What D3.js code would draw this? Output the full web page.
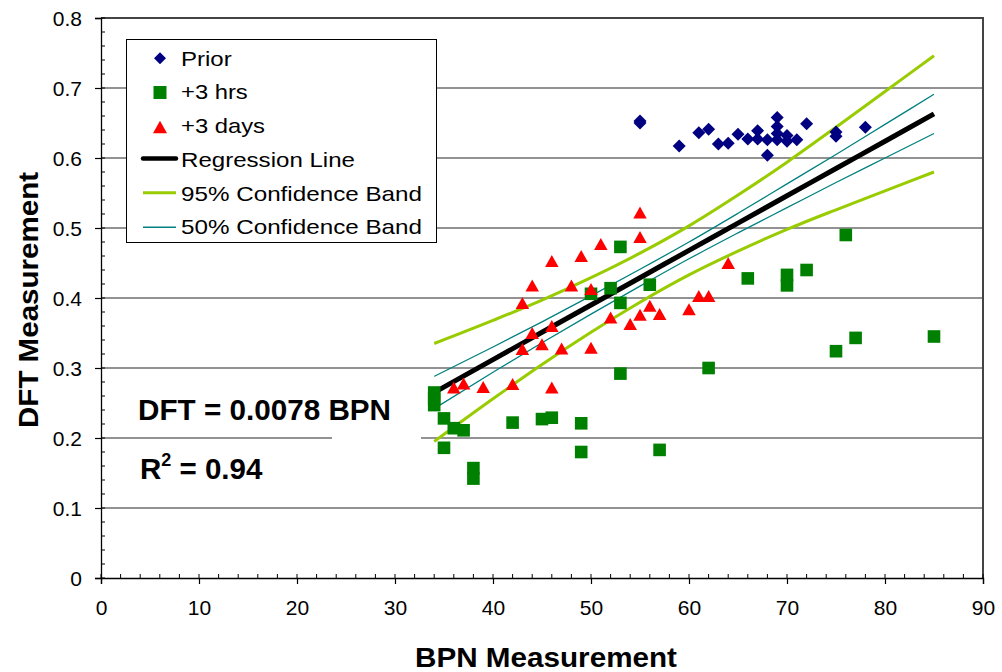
<!DOCTYPE html>
<html>
<head>
<meta charset="utf-8">
<script src="https://cdn.jsdelivr.net/npm/d3@7"></script>
<style>
  html, body { margin: 0; padding: 0; background: #fff; }
  svg { display: block; font-family: Arial, "Liberation Sans", sans-serif; }
</style>
</head>
<body>
<svg id="chart" width="1002" height="672"></svg>
<script>
// ---- data ----
const priorPts = [[55,0.653],[55,0.650],[59,0.617],[61,0.636],[62,0.641],[63,0.620],[64,0.621],[65,0.634],[66,0.627],[67,0.639],[67,0.627],[68,0.604],[68,0.626],[69,0.658],[69,0.645],[69,0.635],[69,0.626],[70,0.632],[70,0.624],[71,0.626],[72,0.649],[75,0.637],[75,0.631],[78,0.644]];
const hrsPts = [[34,0.265],[34,0.256],[34,0.247],[35,0.228],[35,0.186],[36,0.214],[37,0.211],[38,0.157],[38,0.142],[42,0.222],[45,0.227],[46,0.229],[49,0.221],[49,0.180],[50,0.406],[52,0.414],[53,0.473],[53,0.393],[53,0.292],[56,0.419],[57,0.183],[62,0.300],[66,0.428],[70,0.433],[70,0.418],[72,0.440],[75,0.324],[76,0.490],[77,0.343],[85,0.345]];
const daysPts = [[36,0.272],[37,0.278],[39,0.273],[42,0.277],[43,0.327],[43,0.393],[44,0.350],[44,0.418],[45,0.334],[46,0.360],[46,0.453],[46,0.272],[47,0.328],[48,0.418],[49,0.460],[50,0.413],[50,0.329],[51,0.477],[52,0.372],[54,0.363],[55,0.376],[55,0.487],[55,0.522],[56,0.389],[57,0.377],[60,0.384],[61,0.403],[62,0.403],[64,0.450]];

const bandX   = [34, 40, 45, 50, 55, 60, 65, 70, 75, 80, 85];
const regY    = [0.265, 0.312, 0.351, 0.390, 0.429, 0.468, 0.507, 0.546, 0.585, 0.624, 0.663];
const upper95 = [0.335, 0.368, 0.397, 0.429, 0.464, 0.503, 0.547, 0.594, 0.644, 0.695, 0.746];
const lower95 = [0.195, 0.256, 0.305, 0.351, 0.394, 0.433, 0.467, 0.498, 0.526, 0.553, 0.580];
const upper50 = [0.288, 0.330, 0.366, 0.403, 0.441, 0.480, 0.521, 0.563, 0.605, 0.648, 0.691];
const lower50 = [0.242, 0.294, 0.336, 0.377, 0.417, 0.456, 0.493, 0.529, 0.565, 0.600, 0.635];

const xTicks = [0, 10, 20, 30, 40, 50, 60, 70, 80, 90];
const yTicks = [0, 0.1, 0.2, 0.3, 0.4, 0.5, 0.6, 0.7, 0.8];
const legendLabels = ["Prior", "+3 hrs", "+3 days", "Regression Line", "95% Confidence Band", "50% Confidence Band"];

// ---- layout ----
const L = 101, R = 983, T = 18, B = 578;
const x = d3.scaleLinear().domain([0, 90]).range([L, R]);
const y = d3.scaleLinear().domain([0, 0.8]).range([B, T]);

const svg = d3.select("#chart");
const COL = { prior: "#000080", hrs: "#008000", days: "#FF0000", reg: "#000000", c95: "#99CC00", c50: "#008080" };

// gridlines
svg.append("g").selectAll("line").data(yTicks.filter(v => v > 0 && v < 0.8)).join("line")
  .attr("x1", L).attr("x2", R).attr("y1", d => y(d)).attr("y2", d => y(d))
  .attr("stroke", "#6e6e6e").attr("stroke-width", 1.3);

// frame top/right
svg.append("path").attr("d", `M${L},${T}H${R}V${B}`).attr("fill", "none")
  .attr("stroke", "#444").attr("stroke-width", 2);

// white box behind BPN text (interrupts gridline)
svg.append("rect").attr("x", 332).attr("y", 396).attr("width", 89).attr("height", 44).attr("fill", "#fff");

// axes
const yAxis = d3.axisLeft(y).tickValues(yTicks).tickSize(6).tickFormat(d => d === 0 ? "0" : d3.format(".1f")(d));
const gy = svg.append("g").attr("transform", `translate(${L},0)`).call(yAxis);
gy.select(".domain").attr("stroke", "#000").attr("stroke-width", 1.3);
gy.selectAll(".tick line").attr("stroke", "#000").attr("stroke-width", 1.2);
gy.selectAll(".tick text").attr("font-size", 21).attr("fill", "#000").attr("x", -19).attr("dy", "0.36em")
  .attr("font-family", "Arial, 'Liberation Sans', sans-serif");
// y minor ticks inward
svg.append("g").selectAll("line").data(d3.range(0, 0.8001, 0.02)).join("line")
  .attr("x1", L).attr("x2", L + 4).attr("y1", d => y(d)).attr("y2", d => y(d))
  .attr("stroke", "#000").attr("stroke-width", 1);

const xAxis = d3.axisBottom(x).tickValues(xTicks).tickSize(6);
const gx = svg.append("g").attr("transform", `translate(0,${B})`).call(xAxis);
gx.select(".domain").attr("stroke", "#000").attr("stroke-width", 1.3);
gx.selectAll(".tick line").attr("stroke", "#000").attr("stroke-width", 1.2);
gx.selectAll(".tick text").attr("font-size", 21).attr("fill", "#000").attr("y", 22).attr("dy", "0.71em")
  .attr("font-family", "Arial, 'Liberation Sans', sans-serif");
svg.append("g").selectAll("line").data(d3.range(0, 90.001, 2)).join("line")
  .attr("x1", d => x(d)).attr("x2", d => x(d)).attr("y1", B).attr("y2", B - 4)
  .attr("stroke", "#000").attr("stroke-width", 1);

// lines
const lineGen = d3.line().x(d => x(d[0])).y(d => y(d[1])).curve(d3.curveMonotoneX);
const zipX = arr => bandX.map((v, i) => [v, arr[i]]);
svg.append("path").datum(zipX(upper95)).attr("d", lineGen).attr("fill", "none").attr("stroke", COL.c95).attr("stroke-width", 3);
svg.append("path").datum(zipX(lower95)).attr("d", lineGen).attr("fill", "none").attr("stroke", COL.c95).attr("stroke-width", 3);
svg.append("path").datum(zipX(upper50)).attr("d", lineGen).attr("fill", "none").attr("stroke", COL.c50).attr("stroke-width", 1.3);
svg.append("path").datum(zipX(lower50)).attr("d", lineGen).attr("fill", "none").attr("stroke", COL.c50).attr("stroke-width", 1.3);
svg.append("path").datum(zipX(regY)).attr("d", lineGen).attr("fill", "none").attr("stroke", COL.reg).attr("stroke-width", 5);

// markers
const diamond = (cx, cy, r) => `M${cx},${cy - r}L${cx + r},${cy}L${cx},${cy + r}L${cx - r},${cy}Z`;
const tri = (cx, cy, w, h) => `M${cx},${cy - h / 2}L${cx + w / 2},${cy + h / 2}L${cx - w / 2},${cy + h / 2}Z`;

svg.append("g").selectAll("rect").data(hrsPts).join("rect")
  .attr("x", d => x(d[0]) - 6.3).attr("y", d => y(d[1]) - 6.3).attr("width", 12.6).attr("height", 12.6)
  .attr("fill", COL.hrs);
svg.append("g").selectAll("path").data(daysPts).join("path")
  .attr("d", d => tri(x(d[0]), y(d[1]), 13.5, 12)).attr("fill", COL.days);
svg.append("g").selectAll("path").data(priorPts).join("path")
  .attr("d", d => diamond(x(d[0]), y(d[1]), 6.5)).attr("fill", COL.prior);

// legend
const lg = svg.append("g");
lg.append("rect").attr("x", 126.5).attr("y", 39.5).attr("width", 310).attr("height", 203)
  .attr("fill", "#fff").attr("stroke", "#000").attr("stroke-width", 1);
const rowY = [58.3, 92.5, 127, 158.5, 192.7, 227.3];
const baseY = [65.7, 99.4, 133.1, 166.8, 200.5, 234.2];
const textW = [50.7, 66.7, 84, 174, 241, 241];
lg.append("path").attr("d", diamond(160, rowY[0], 6)).attr("fill", COL.prior);
lg.append("rect").attr("x", 160 - 6.5).attr("y", rowY[1] - 6.5).attr("width", 13).attr("height", 13).attr("fill", COL.hrs);
lg.append("path").attr("d", tri(160, rowY[2], 14, 12.5)).attr("fill", COL.days);
lg.append("line").attr("x1", 143).attr("x2", 176).attr("y1", rowY[3]).attr("y2", rowY[3]).attr("stroke", COL.reg).attr("stroke-width", 4.5).attr("stroke-linecap", "round");
lg.append("line").attr("x1", 143).attr("x2", 176).attr("y1", rowY[4]).attr("y2", rowY[4]).attr("stroke", COL.c95).attr("stroke-width", 3);
lg.append("line").attr("x1", 143).attr("x2", 176).attr("y1", rowY[5]).attr("y2", rowY[5]).attr("stroke", COL.c50).attr("stroke-width", 1.5);
lg.selectAll("text").data(legendLabels).join("text")
  .attr("x", 181).attr("y", (d, i) => baseY[i]).attr("font-size", 21)
  .attr("textLength", (d, i) => textW[i]).attr("lengthAdjust", "spacingAndGlyphs")
  .attr("fill", "#000").text(d => d);

// equation text
svg.append("text").attr("x", 138).attr("y", 419.5).attr("font-size", 29.5).attr("font-weight", "bold")
  .attr("textLength", 253).attr("lengthAdjust", "spacingAndGlyphs").text("DFT = 0.0078 BPN");
const r2 = svg.append("text").attr("x", 140).attr("y", 478.5).attr("font-size", 29.5).attr("font-weight", "bold");
r2.append("tspan").text("R");
r2.append("tspan").attr("font-size", 18).attr("dy", -13).text("2");
r2.append("tspan").attr("dy", 13).text(" = 0.94");

// axis titles
svg.append("text").attr("x", 546).attr("y", 667).attr("text-anchor", "middle")
  .attr("font-size", 28.5).attr("font-weight", "bold").attr("textLength", 262).attr("lengthAdjust", "spacingAndGlyphs")
  .text("BPN Measurement");
svg.append("text").attr("transform", "translate(38,300) rotate(-90)").attr("text-anchor", "middle")
  .attr("font-size", 28.5).attr("font-weight", "bold").attr("textLength", 256).attr("lengthAdjust", "spacingAndGlyphs")
  .text("DFT Measurement");
</script>
</body>
</html>
